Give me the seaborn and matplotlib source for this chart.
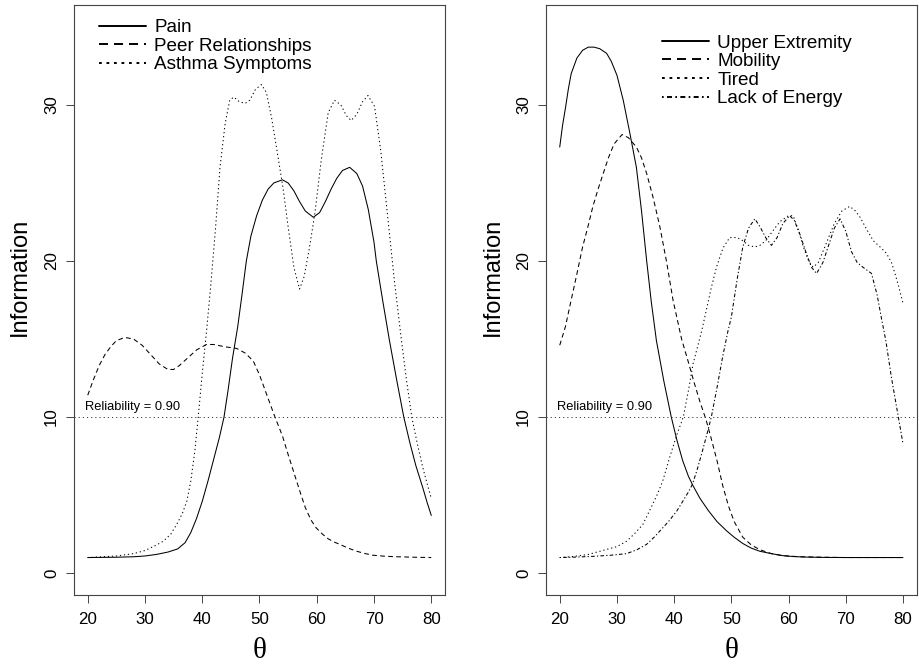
import matplotlib
matplotlib.use("Agg")
import matplotlib.pyplot as plt
from matplotlib.lines import Line2D
import pandas as pd
import seaborn as sns

# ---------------- data ----------------
theta_ticks = [20, 30, 40, 50, 60, 70, 80]
info_ticks = [0, 10, 20, 30]
reliability_info = 10
reliability_label = "Reliability = 0.90"

left_labels = ["Pain", "Peer Relationships", "Asthma Symptoms"]
right_labels = ["Upper Extremity", "Mobility", "Tired", "Lack of Energy"]

pain_x = [20, 25, 28, 30, 32, 34, 35.7, 37, 38, 39, 40, 41, 42, 43, 43.8, 44.5, 45.3, 46.2, 47,
          47.7, 48.5, 49.5, 50.5, 51.5, 52.5, 54, 55, 56, 57, 58, 59.4, 60.5, 61.5, 62.5, 63.5,
          64.5, 65.75, 67, 68, 69, 70, 70.4, 71.5, 72.7, 74, 75.2, 76.3, 77.3, 78.5, 79.3, 80]
pain_y = [1.0, 1.02, 1.05, 1.1, 1.2, 1.35, 1.55, 1.95, 2.6, 3.5, 4.6, 5.9, 7.3, 8.7, 10.0, 11.7,
          13.8, 15.8, 18.0, 20.0, 21.6, 22.9, 23.9, 24.6, 25.0, 25.2, 25.0, 24.5, 23.8, 23.2,
          22.8, 23.1, 23.8, 24.6, 25.3, 25.8, 26.0, 25.6, 24.8, 23.3, 21.2, 20.0, 17.5, 14.9,
          12.3, 10.0, 8.3, 6.9, 5.5, 4.5, 3.7]

peer_x = [20, 21, 22, 23, 24, 25, 26.5, 28, 29.5, 31, 32.5, 34, 35, 36, 37.5, 39, 40.75, 42, 44,
          46, 47.5, 48.9, 50, 51, 52, 52.7, 54, 55, 56, 57, 58, 59, 59.9, 61, 62, 63, 64, 65.5,
          67, 68.5, 69.8, 72, 74, 77, 80]
peer_y = [11.4, 12.4, 13.3, 14.0, 14.5, 14.9, 15.1, 15.0, 14.6, 14.0, 13.4, 13.05, 13.05, 13.3,
          13.8, 14.3, 14.65, 14.65, 14.5, 14.4, 14.1, 13.6, 12.7, 11.7, 10.7, 10.0, 8.8, 7.6, 6.45,
          5.3, 4.2, 3.4, 2.9, 2.5, 2.2, 2.0, 1.85, 1.6, 1.4, 1.25, 1.15, 1.08, 1.05, 1.02, 1.0]

asthma_x = [20, 25, 28, 30, 32, 33.2, 34.5, 35.5, 36.5, 37.3, 38, 38.7, 39.3, 40, 40.75, 41.5,
            42.3, 43.1, 44, 44.8, 45.5, 46.5, 47.5, 48.3, 49.3, 50.35, 51.2, 52.1, 53, 54.1, 55,
            56, 57, 57.8, 58.7, 59.65, 60.8, 62, 63.1, 64.2, 65.2, 66, 67, 68, 68.95, 70.1, 71.2,
            72.4, 73.6, 74.8, 75.7, 76.6, 77.5, 78.5, 79.3, 80]
asthma_y = [1.0, 1.1, 1.25, 1.45, 1.8, 2.05, 2.5, 3.1, 3.8, 4.6, 5.9, 7.8, 10.0, 12.8, 15.5, 18.5,
            22.0, 26.0, 28.8, 30.3, 30.5, 30.2, 30.1, 30.3, 31.0, 31.3, 30.8, 29.2, 27.2, 24.7,
            22.2, 19.6, 18.2, 19.0, 20.8, 23.0, 26.5, 29.5, 30.3, 30.0, 29.3, 29.0, 29.4, 30.2,
            30.6, 29.9, 27.0, 22.8, 18.6, 14.9, 12.3, 10.0, 8.4, 6.8, 5.7, 4.8]

upper_x = [20, 20.5, 21, 21.5, 22, 23, 24, 25, 26, 27, 28.2, 29, 30, 31.1, 32.2, 33.4, 34.3, 35.2,
           36, 36.9, 38.2, 39.5, 40.5, 41.5, 42.5, 43.3, 44.5, 46, 47.5, 49.2, 50.5, 52, 53.5, 55,
           57, 59, 61, 63, 66, 70, 80]
upper_y = [27.3, 28.7, 29.8, 31.0, 32.0, 33.0, 33.5, 33.7, 33.7, 33.6, 33.3, 32.8, 31.9, 30.3,
           28.3, 26.0, 23.2, 20.0, 17.4, 14.9, 12.3, 10.0, 8.5, 7.2, 6.2, 5.6, 4.8, 4.0, 3.3, 2.7,
           2.3, 1.9, 1.6, 1.4, 1.25, 1.12, 1.06, 1.03, 1.01, 1.0, 1.0]

mobility_x = [20, 21, 22, 22.9, 24, 25, 25.8, 26.7, 27.6, 28.5, 29.5, 30.9, 32, 33.4, 34.3, 35.2,
              36.3, 37.5, 38.7, 39.8, 41.3, 42.5, 43.5, 44.5, 45.6, 46.5, 47.5, 48.5, 49.5, 50.5,
              52, 53.5, 55, 57, 59, 62, 66, 70, 80]
mobility_y = [14.6, 15.8, 17.5, 19.0, 20.9, 22.3, 23.5, 24.6, 25.6, 26.6, 27.5, 28.1, 27.9, 27.3,
              26.6, 25.6, 24.1, 22.2, 19.9, 17.5, 15.0, 13.5, 12.2, 11.0, 9.8, 8.6, 7.2, 5.6, 4.3,
              3.3, 2.3, 1.8, 1.5, 1.25, 1.12, 1.05, 1.02, 1.0, 1.0]

tired_x = [20, 22, 25, 28, 30, 31.7, 33, 34.5, 35.7, 37, 38, 39.2, 40.5, 41.6, 42.5, 43.3, 44.8,
           45.35, 46.5, 47.4, 48.5, 49.7, 51, 52, 53, 54.1, 55, 56, 57, 58, 58.75, 60, 60.8, 61.7,
           62.5, 63.5, 64.3, 65.2, 66, 67, 68, 69.3, 70.7, 71.7, 72.5, 73.7, 74.8, 76, 77.1, 78,
           78.6, 79.3, 80]
tired_y = [1.0, 1.05, 1.2, 1.5, 1.7, 2.05, 2.5, 3.1, 4.0, 5.0, 5.9, 7.4, 8.9, 10.0, 11.7, 13.4,
           15.5, 16.4, 18.3, 19.6, 20.8, 21.5, 21.5, 21.3, 21.0, 20.9, 21.0, 21.3, 21.8, 22.3,
           22.6, 22.9, 22.9, 22.0, 21.0, 20.0, 19.6, 19.9, 20.6, 21.5, 22.4, 23.2, 23.5, 23.2,
           22.8, 22.0, 21.3, 20.9, 20.5, 19.9, 19.2, 18.3, 17.3]

energy_x = [20, 23, 26, 29, 31.7, 33.5, 35.2, 36.5, 37.5, 39, 40.5, 41.5, 42.5, 43.2, 44, 45, 45.8,
            46.5, 47.5, 48.5, 49.4, 50, 51, 52, 53, 54.1, 55, 56, 57, 58, 59, 60.2, 61, 62, 63,
            64, 64.9, 66, 67, 68, 69, 70, 71, 72, 73, 74.5, 75.5, 76.2, 77, 78, 79, 80]
energy_y = [1.0, 1.03, 1.08, 1.15, 1.25, 1.5, 1.85, 2.3, 2.7, 3.3, 4.0, 4.6, 5.2, 5.7, 6.6, 7.9,
            9.0, 10.0, 11.9, 13.9, 15.5, 16.4, 18.8, 20.9, 22.1, 22.7, 22.2, 21.5, 21.0, 21.5,
            22.4, 22.9, 22.6, 21.7, 20.6, 19.6, 19.2, 19.9, 21.0, 22.1, 22.7, 21.9, 20.6, 19.9,
            19.6, 19.2, 17.8, 16.4, 14.9, 12.5, 10.4, 8.3]

# ---------------- styling ----------------
sns.set_style("ticks")
plt.rcParams["font.family"] = ["Liberation Sans", "DejaVu Sans"]
plt.rcParams["lines.scale_dashes"] = False
for k in ["text.color", "axes.labelcolor", "xtick.color", "ytick.color"]:
    plt.rcParams[k] = "black"

W, H = 920, 666
fig = plt.figure(figsize=(W / 100, H / 100), dpi=100)


def px_axes(l, t, r, b):
    return [l / W, 1 - b / H, (r - l) / W, (b - t) / H]


ax1 = fig.add_axes(px_axes(74, 5, 445, 595))
ax2 = fig.add_axes(px_axes(546, 5, 916.7, 595))

LW = 0.75
SOLID = "-"
DASH = (0, (3.4, 2.4))
DOT = (0, (0.9, 2.0))
DOTDASH = (0, (0.9, 1.6, 2.6, 1.6))

LEG_LW = 1.4
LEG_STYLES = {SOLID: "-", DASH: (0, (6.5, 4.3)), DOT: (0, (2.0, 3.4)),
              DOTDASH: (0, (1.2, 2.4, 3.6, 2.4))}

left_series = [(pain_x, pain_y, SOLID), (peer_x, peer_y, DASH), (asthma_x, asthma_y, DOT)]
right_series = [(upper_x, upper_y, SOLID), (mobility_x, mobility_y, DASH),
                (tired_x, tired_y, DOT), (energy_x, energy_y, DOTDASH)]


def draw_panel(ax, series, labels, leg_anchor):
    for (xs, ys, ls), lab in zip(series, labels):
        df = pd.DataFrame({"theta": xs, "info": ys})
        sns.lineplot(data=df, x="theta", y="info", ax=ax, color="black", lw=LW,
                     linestyle=ls, estimator=None, sort=False, legend=False)
    ax.axhline(reliability_info, color="#333333", lw=0.7, linestyle=(0, (0.8, 2.2)))
    ax.text(19.6, reliability_info + 0.25, reliability_label, fontsize=9.3,
            ha="left", va="bottom", color="black")
    ax.set_xlim(17.6, 82.4)
    ax.set_ylim(-1.4, 36.4)
    ax.set_xticks(theta_ticks)
    ax.set_yticks(info_ticks)
    ax.tick_params(axis="both", direction="out", length=5.8, width=0.7, color="#444444",
                   labelsize=12.2, left=True, bottom=True)
    ax.tick_params(axis="x", pad=6.5)
    ax.tick_params(axis="y", pad=5)
    for lab in ax.get_yticklabels():
        lab.set_rotation(90)
        lab.set_va("center")
    for sp in ax.spines.values():
        sp.set_visible(True)
        sp.set_color("#444444")
        sp.set_linewidth(0.8)
    ax.set_xlabel("θ", fontsize=21, family=["Liberation Serif", "DejaVu Serif"])
    ax.xaxis.set_label_coords(0.5, -0.095)
    ax.xaxis.label.set_va("center")
    ax.set_ylabel("Information", fontsize=17)
    ax.yaxis.label.set_va("center")
    handles = [Line2D([0], [0], color="black", lw=LEG_LW, linestyle=LEG_STYLES[ls])
               for (_, _, ls) in series]
    ax.legend(handles, labels, loc="upper left", bbox_to_anchor=leg_anchor,
              frameon=False, fontsize=13.6, handlelength=2.5, handletextpad=0.42,
              labelspacing=0.07, borderpad=0, borderaxespad=0)


draw_panel(ax1, left_series, left_labels, ((99 - 74) / 371, 1 - (19.0 - 5) / 590))
draw_panel(ax2, right_series, right_labels, ((662 - 546) / 370.7, 1 - (34.3 - 5) / 590))
ax1.yaxis.set_label_coords(-0.1456, (595 - 277) / 590)
ax2.yaxis.set_label_coords(-0.143, (595 - 277) / 590)

fig.savefig("out.png", dpi=100)
